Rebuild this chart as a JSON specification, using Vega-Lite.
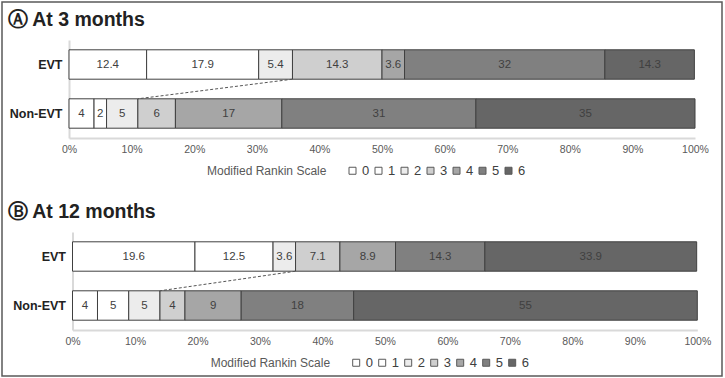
{
  "$schema": "https://vega.github.io/schema/vega-lite/v6.json",
  "width": 720,
  "height": 374,
  "autosize": {"type": "none"},
  "padding": {"left": 2, "top": 2, "right": 3, "bottom": 2},
  "background": "white",
  "config": {
    "font": "Liberation Sans",
    "view": {"stroke": "#5a5a5a", "strokeWidth": 1.5}
  },
  "datasets": {
    "a": [
      {"group": "EVT", "mrs": "0", "value": 12.4},
      {"group": "EVT", "mrs": "1", "value": 17.9},
      {"group": "EVT", "mrs": "2", "value": 5.4},
      {"group": "EVT", "mrs": "3", "value": 14.3},
      {"group": "EVT", "mrs": "4", "value": 3.6},
      {"group": "EVT", "mrs": "5", "value": 32},
      {"group": "EVT", "mrs": "6", "value": 14.3},
      {"group": "Non-EVT", "mrs": "0", "value": 4},
      {"group": "Non-EVT", "mrs": "1", "value": 2},
      {"group": "Non-EVT", "mrs": "2", "value": 5},
      {"group": "Non-EVT", "mrs": "3", "value": 6},
      {"group": "Non-EVT", "mrs": "4", "value": 17},
      {"group": "Non-EVT", "mrs": "5", "value": 31},
      {"group": "Non-EVT", "mrs": "6", "value": 35}
    ],
    "b": [
      {"group": "EVT", "mrs": "0", "value": 19.6},
      {"group": "EVT", "mrs": "1", "value": 12.5},
      {"group": "EVT", "mrs": "2", "value": 3.6},
      {"group": "EVT", "mrs": "3", "value": 7.1},
      {"group": "EVT", "mrs": "4", "value": 8.9},
      {"group": "EVT", "mrs": "5", "value": 14.3},
      {"group": "EVT", "mrs": "6", "value": 33.9},
      {"group": "Non-EVT", "mrs": "0", "value": 4},
      {"group": "Non-EVT", "mrs": "1", "value": 5},
      {"group": "Non-EVT", "mrs": "2", "value": 5},
      {"group": "Non-EVT", "mrs": "3", "value": 4},
      {"group": "Non-EVT", "mrs": "4", "value": 9},
      {"group": "Non-EVT", "mrs": "5", "value": 18},
      {"group": "Non-EVT", "mrs": "6", "value": 55}
    ],
    "ra": [{"from": "EVT", "to": "Non-EVT", "x1": 35.7, "x2": 11}],
    "rb": [{"from": "EVT", "to": "Non-EVT", "x1": 35.7, "x2": 14}]
  },
  "layer": [
    {
      "layer": [
        {
          "data": {"name": "a"},
          "mark": {"type": "bar", "stroke": "#404040", "strokeWidth": 1},
          "encoding": {
            "y": {
              "field": "group", "type": "nominal", "sort": ["EVT", "Non-EVT"],
              "scale": {"range": [38, 136], "paddingInner": 0.4, "paddingOuter": 0.2},
              "axis": {
                "orient": "left", "offset": -67,
                "title": "Ⓐ At 3 months", "titleAngle": 0, "titleAlign": "left", "titleBaseline": "alphabetic",
                "titleX": -62, "titleY": 23, "titleFontSize": 19.5, "titleFontWeight": "bold", "titleColor": "#222222",
                "ticks": false, "labelPadding": 7, "labelFontWeight": "bold", "labelFontSize": 12.5, "labelColor": "#222222",
                "domainColor": "#d9d9d9", "domainWidth": 2
              }
            },
            "x": {
              "field": "value", "type": "quantitative", "stack": "zero",
              "scale": {"domain": [0, 100], "range": [67, 693], "nice": false},
              "axis": {
                "orient": "bottom", "offset": -238, "values": [0, 10, 20, 30, 40, 50, 60, 70, 80, 90, 100],
                "labelExpr": "datum.value + '%'", "title": null, "grid": false, "ticks": false,
                "labelPadding": 6, "labelFlush": false, "labelOverlap": false,
                "domainColor": "#d9d9d9", "domainWidth": 2, "labelColor": "#595959", "labelFontSize": 10.5
              }
            },
            "color": {
              "field": "mrs", "type": "nominal",
              "scale": {"domain": ["0", "1", "2", "3", "4", "5", "6"], "range": ["#ffffff", "#ffffff", "#ececec", "#cfcfcf", "#a6a6a6", "#808080", "#666666"]},
              "legend": {
                "orient": "none", "legendX": 205, "legendY": 162, "direction": "horizontal",
                "title": "Modified Rankin Scale", "titleOrient": "left", "titleFontSize": 12, "titleFontWeight": "normal",
                "titleColor": "#595959", "titlePadding": 19, "symbolType": "square", "symbolSize": 49,
                "symbolStrokeColor": "#595959", "symbolStrokeWidth": 1, "symbolOpacity": 1,
                "labelFontSize": 13, "labelColor": "#404040", "labelOffset": 3, "columnPadding": 2
              }
            },
            "order": {"field": "mrs", "type": "ordinal"}
          }
        },
        {
          "data": {"name": "a"},
          "mark": {"type": "text", "fontSize": 11.5, "color": "#404040"},
          "encoding": {
            "y": {"field": "group", "type": "nominal", "sort": ["EVT", "Non-EVT"]},
            "x": {"field": "value", "type": "quantitative", "stack": "zero", "bandPosition": 0.5},
            "detail": {"field": "mrs", "type": "nominal"},
            "order": {"field": "mrs", "type": "ordinal"},
            "text": {"field": "value", "type": "nominal"}
          }
        },
        {
          "data": {"name": "ra"},
          "mark": {"type": "rule", "strokeDash": [3, 2], "color": "#555555", "strokeWidth": 1},
          "encoding": {
            "x": {"field": "x1", "type": "quantitative"},
            "x2": {"field": "x2"},
            "y": {"field": "from", "type": "nominal", "sort": ["EVT", "Non-EVT"], "bandPosition": 1},
            "y2": {"field": "to", "bandPosition": 0}
          }
        }
      ]
    },
    {
      "layer": [
        {
          "data": {"name": "b"},
          "mark": {"type": "bar", "stroke": "#404040", "strokeWidth": 1},
          "encoding": {
            "y": {
              "field": "group", "type": "nominal", "sort": ["EVT", "Non-EVT"],
              "scale": {"range": [230, 328], "paddingInner": 0.4, "paddingOuter": 0.2},
              "axis": {
                "orient": "left", "offset": -70.5,
                "title": "Ⓑ At 12 months", "titleAngle": 0, "titleAlign": "left", "titleBaseline": "alphabetic",
                "titleX": -65.5, "titleY": 215, "titleFontSize": 19.5, "titleFontWeight": "bold", "titleColor": "#222222",
                "ticks": false, "labelPadding": 7, "labelFontWeight": "bold", "labelFontSize": 12.5, "labelColor": "#222222",
                "domainColor": "#d9d9d9", "domainWidth": 2
              }
            },
            "x": {
              "field": "value", "type": "quantitative", "stack": "zero",
              "scale": {"domain": [0, 100], "range": [70.5, 695.3], "nice": false},
              "axis": {
                "orient": "bottom", "offset": -46, "values": [0, 10, 20, 30, 40, 50, 60, 70, 80, 90, 100],
                "labelExpr": "datum.value + '%'", "title": null, "grid": false, "ticks": false,
                "labelPadding": 6, "labelFlush": false, "labelOverlap": false,
                "domainColor": "#d9d9d9", "domainWidth": 2, "labelColor": "#595959", "labelFontSize": 10.5
              }
            },
            "color": {
              "field": "mrs", "type": "nominal",
              "scale": {"domain": ["0", "1", "2", "3", "4", "5", "6"], "range": ["#ffffff", "#ffffff", "#ececec", "#cfcfcf", "#a6a6a6", "#808080", "#666666"]},
              "legend": {
                "orient": "none", "legendX": 208.7, "legendY": 354, "direction": "horizontal",
                "title": "Modified Rankin Scale", "titleOrient": "left", "titleFontSize": 12, "titleFontWeight": "normal",
                "titleColor": "#595959", "titlePadding": 19, "symbolType": "square", "symbolSize": 49,
                "symbolStrokeColor": "#595959", "symbolStrokeWidth": 1, "symbolOpacity": 1,
                "labelFontSize": 13, "labelColor": "#404040", "labelOffset": 3, "columnPadding": 2
              }
            },
            "order": {"field": "mrs", "type": "ordinal"}
          }
        },
        {
          "data": {"name": "b"},
          "mark": {"type": "text", "fontSize": 11.5, "color": "#404040"},
          "encoding": {
            "y": {"field": "group", "type": "nominal", "sort": ["EVT", "Non-EVT"]},
            "x": {"field": "value", "type": "quantitative", "stack": "zero", "bandPosition": 0.5},
            "detail": {"field": "mrs", "type": "nominal"},
            "order": {"field": "mrs", "type": "ordinal"},
            "text": {"field": "value", "type": "nominal"}
          }
        },
        {
          "data": {"name": "rb"},
          "mark": {"type": "rule", "strokeDash": [3, 2], "color": "#555555", "strokeWidth": 1},
          "encoding": {
            "x": {"field": "x1", "type": "quantitative"},
            "x2": {"field": "x2"},
            "y": {"field": "from", "type": "nominal", "sort": ["EVT", "Non-EVT"], "bandPosition": 1},
            "y2": {"field": "to", "bandPosition": 0}
          }
        }
      ]
    }
  ],
  "resolve": {"scale": {"x": "independent", "y": "independent", "color": "independent"}}
}
